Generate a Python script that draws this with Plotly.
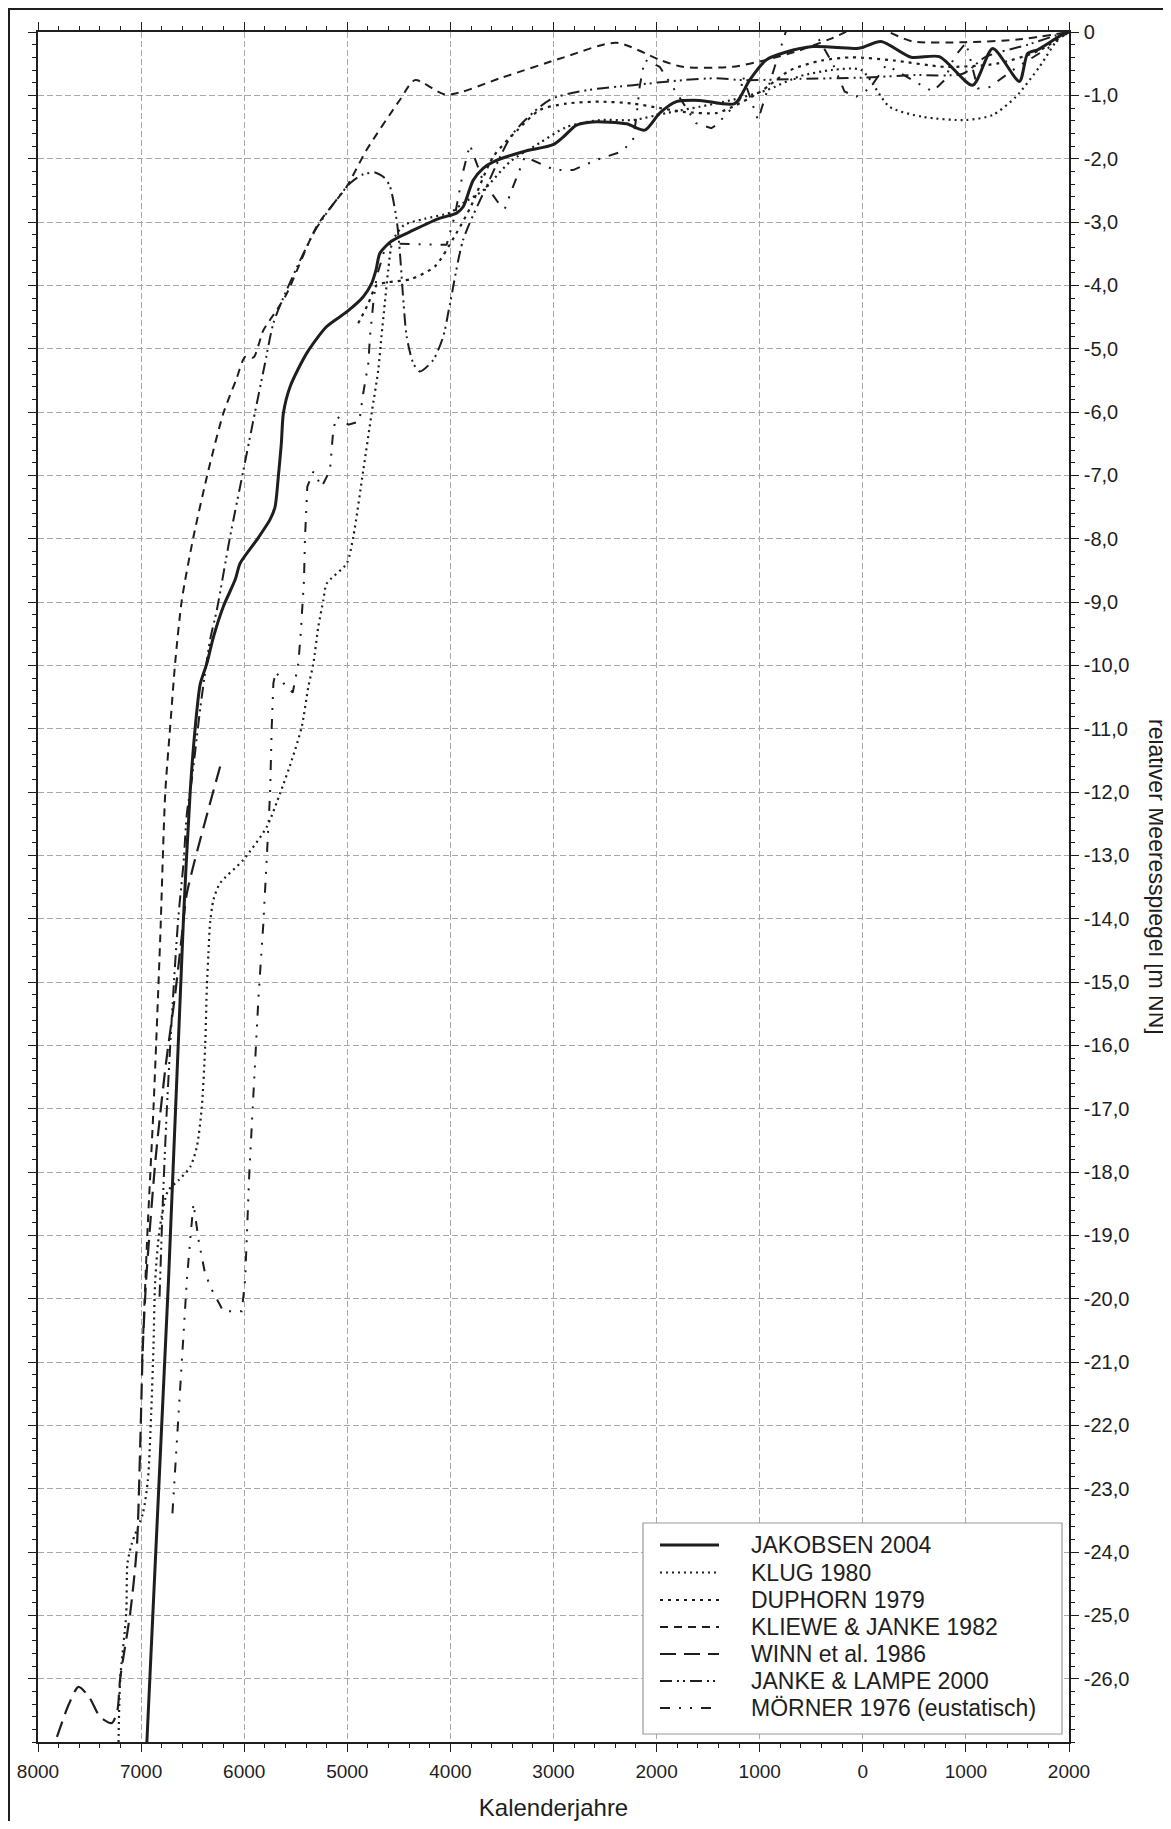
import plotly.graph_objects as go

# ---------------- data (year: negative = BC, depth in m NN) ----------------
jakobsen_year = [-6944, -6734, -6589, -6524, -6476, -6427, -6362, -6298, -6202, -6088, -6040, -5878,
                 -5750, -5701, -5669, -5640, -5620, -5555, -5393, -5200, -5006, -4845, -4764, -4722,
                 -4683, -4570, -4360, -4102, -3940, -3876, -3779, -3680, -3585, -3295, -3004, -2900,
                 -2777, -2616, -2292, -2115, -1970, -1808, -1582, -1243, -1098, -936, -750, -484,
                 -64, -15, 178, 469, 743, 1066, 1260, 1519, 1599, 1696, 1955, 2000]
jakobsen_depth = [-27.0, -19.7, -14.0, -12.0, -11.0, -10.3, -9.97, -9.55, -9.07, -8.65, -8.39, -8.02,
                  -7.7, -7.5, -7.02, -6.5, -6.02, -5.6, -5.07, -4.65, -4.42, -4.18, -3.97, -3.76,
                  -3.49, -3.3, -3.13, -2.94, -2.86, -2.76, -2.34, -2.15, -2.05, -1.89, -1.78, -1.65,
                  -1.47, -1.42, -1.45, -1.55, -1.28, -1.10, -1.08, -1.13, -0.76, -0.44, -0.32, -0.23,
                  -0.26, -0.25, -0.15, -0.40, -0.39, -0.84, -0.26, -0.78, -0.34, -0.28, -0.02, 0.0]

klug_year = [-7219, -7203, -7144, -7132, -7089, -6983, -6934, -6902, -6880, -6863, -6820, -6740,
             -6637, -6524, -6459, -6411, -6379, -6362, -6347, -6331, -6298, -6234, -6008, -5781,
             -5652, -5539, -5442, -5378, -5329, -5281, -5232, -5200, -5006, -4942, -4845, -4764,
             -4700, -4669, -4636, -4603, -4560, -4450, -4250, -4000, -3876, -3682, -3423, -3132,
             -2874, -2551, -2229, -1905, -1582, -1260, -936, -613, -300, -15, 259, 582, 1002,
             1260, 1487, 1713, 1938, 2000]
klug_depth = [-27.0, -26.02, -24.97, -24.18, -23.86, -23.39, -22.86, -21.81, -20.76, -19.71, -18.9, -18.3,
              -18.13, -17.92, -17.6, -16.97, -16.02, -15.07, -14.55, -14.07, -13.7, -13.44, -13.07, -12.55,
              -12.02, -11.5, -10.97, -10.34, -9.97, -9.39, -8.97, -8.71, -8.39, -7.97, -6.92, -6.02,
              -5.34, -4.81, -4.28, -3.76, -3.3, -3.05, -2.95, -2.85, -2.7, -2.5, -2.05, -1.75,
              -1.5, -1.39, -1.39, -1.28, -1.18, -1.07, -0.92, -0.7, -0.6, -0.6, -1.18, -1.34, -1.39,
              -1.31, -1.02, -0.55, -0.02, 0.0]

duphorn_year = [-4894, -4800, -4715, -4600, -4380, -4150, -3950, -3800, -3585, -3350, -3132, -2874,
                -2551, -2229, -1970, -1744, -1421, -1260, -1000, -700, -400, -100, 300, 800, 1300,
                1700, 2000]
duphorn_depth = [-4.6, -4.3, -4.0, -3.95, -3.9, -3.7, -3.2, -2.75, -1.97, -1.55, -1.23, -1.13,
                 -1.10, -1.13, -1.2, -1.26, -1.28, -1.18, -0.95, -0.6, -0.45, -0.4, -0.45, -0.55, -0.5,
                 -0.3, 0.0]

kliewe_year = [-6990, -6940, -6880, -6815, -6766, -6718, -6670, -6605, -6492, -6347, -6202, -6080,
               -5991, -5911, -5814, -5684, -5587, -5297, -5006, -4812, -4489, -4344, -4037, -3500,
               -2900, -2390, -1970, -1747, -1262, -936, -613, -300, 47, 250, 485, 1000, 1500, 2000]
kliewe_depth = [-21.0, -19.0, -17.0, -14.33, -12.02, -10.97, -9.97, -8.97, -7.97, -6.92, -6.02, -5.5,
                -5.13, -5.14, -4.71, -4.39, -4.13, -3.07, -2.44, -1.86, -1.07, -0.76, -0.99, -0.72,
                -0.4, -0.17, -0.44, -0.55, -0.55, -0.44, -0.29, -0.1, 0.13, 0.0, -0.15, -0.16, -0.12, 0.0]

winn_year = [-7816, -7700, -7607, -7500, -7400, -7283, -7230, -7203, -7106, -7041, -7009, -6983,
             -6951, -6860, -6760, -6670, -6600, -6556, -6217]
winn_depth = [-26.92, -26.4, -26.13, -26.3, -26.6, -26.7, -26.5, -26.0, -24.97, -23.92, -22.34, -20.76,
              -19.7, -17.8, -16.3, -15.2, -14.2, -13.6, -11.5]

janke_year = [-6821, -6790, -6750, -6700, -6640, -6589, -6556, -6508, -6420, -6331, -6266, -6137,
              -6008, -5911, -5798, -5717, -5587, -5300, -4974, -4850, -4732, -4640, -4586, -4521,
              -4489, -4457, -4424, -4360, -4296, -4167, -4070, -4005, -3876, -3650, -3392, -3036,
              -2680, -2228, -1744, -1421, -1163, -600, 0, 500, 969, 1195, 1600, 1939, 2000]
janke_depth = [-19.97, -18.5, -17.0, -15.5, -14.0, -13.13, -12.34, -11.8, -10.6, -9.6, -9.13, -7.97,
               -6.92, -6.13, -5.23, -4.6, -4.07, -3.1, -2.39, -2.25, -2.22, -2.3, -2.44, -2.97,
               -3.5, -4.23, -4.81, -5.23, -5.36, -5.18, -4.81, -4.3, -3.28, -2.44, -1.6, -1.07,
               -0.92, -0.84, -0.76, -0.73, -0.76, -0.74, -0.72, -0.68, -0.66, -0.39, -0.2, -0.02, 0.0]

moerner_year = [-6696, -6600, -6556, -6520, -6492, -6440, -6380, -6314, -6202, -6023, -5991, -5950,
                -5900, -5860, -5814, -5781, -5749, -5733, -5717, -5694, -5620, -5529, -5475, -5452,
                -5436, -5420, -5410, -5388, -5329, -5248, -5168, -5136, -5103, -4990, -4884, -4845,
                -4796, -4780, -4748, -4715, -4640, -4580, -4300, -4037, -3957, -3876, -3811, -3763,
                -3682, -3520, -3472, -3392, -3278, -2987, -2810, -2584, -2341, -2229, -2196, -2164,
                -2115, -1970, -1616, -1470, -1421, -1194, -1163, -1017, -742, -611, -291, -177, -64,
                67, 227, 566, 679, 792, 889, 1002, 1115, 1229, 1500, 1800, 2000]
moerner_depth = [-23.39, -20.8, -19.7, -19.0, -18.5, -19.1, -19.6, -19.86, -20.2, -20.2, -19.7, -18.0,
                 -16.5, -15.2, -14.07, -13.02, -12.02, -10.97, -10.28, -10.1, -10.28, -10.43, -9.97, -9.5,
                 -9.07, -8.65, -7.97, -7.18, -6.94, -7.18, -6.92, -6.28, -6.07, -6.2, -6.15, -5.7,
                 -5.23, -4.81, -4.28, -3.86, -3.45, -3.34, -3.35, -3.36, -2.9, -2.2, -1.78, -1.99,
                 -2.36, -2.73, -2.79, -2.44, -1.97, -2.18, -2.18, -2.02, -1.89, -1.71, -1.34, -0.86,
                 -0.44, -0.55, -1.44, -1.52, -1.47, -1.07, -0.7, -1.39, 0.03, 0.41, -0.5, -0.94, -1.02,
                 -0.89, -0.52, -0.84, -0.94, -0.76, -0.39, -0.17, -0.89, -0.87, -0.55, -0.25, 0.0]

series_names = ["JAKOBSEN 2004", "KLUG 1980", "DUPHORN 1979", "KLIEWE & JANKE 1982",
                "WINN et al. 1986", "JANKE & LAMPE 2000", "MÖRNER 1976 (eustatisch)"]

x_tickvals = [-8000, -7000, -6000, -5000, -4000, -3000, -2000, -1000, 0, 1000, 2000]
x_ticktext = ["8000", "7000", "6000", "5000", "4000", "3000", "2000", "1000", "0", "1000", "2000"]
y_tickvals = [0, -1, -2, -3, -4, -5, -6, -7, -8, -9, -10, -11, -12, -13, -14, -15, -16, -17, -18,
              -19, -20, -21, -22, -23, -24, -25, -26]
y_ticktext = ["0", "-1,0", "-2,0", "-3,0", "-4,0", "-5,0", "-6,0", "-7,0", "-8,0", "-9,0", "-10,0",
              "-11,0", "-12,0", "-13,0", "-14,0", "-15,0", "-16,0", "-17,0", "-18,0", "-19,0",
              "-20,0", "-21,0", "-22,0", "-23,0", "-24,0", "-25,0", "-26,0"]

# ---------------- figure ----------------
FONT = "Liberation Sans, Arial, sans-serif"
INK = "#1e1e1e"

# page sits inside the browser's default 8px body margin
W, H = 1163, 1813
ML, MR, MT, MB = 30, 102, 24, 79
PW, PH = W - ML - MR, H - MT - MB


def px(xp):  # page pixel x -> paper
    return (xp - 8 - ML) / PW


def py(yp):  # page pixel y -> paper
    return (H - MB - (yp - 8)) / PH


styles = [
    dict(width=3.0, dash="solid", shape="spline"),
    dict(width=2.2, dash="2px,4px", shape="spline"),
    dict(width=2.2, dash="3px,5px", shape="spline"),
    dict(width=2.0, dash="8px,6px", shape="spline"),
    dict(width=2.2, dash="16px,8px", shape="spline"),
    dict(width=2.0, dash="12px,5px,2px,4px,2px,5px", shape="spline"),
    dict(width=2.0, dash="10px,9px,2px,9px,2px,9px", shape="linear"),
]
data = [(jakobsen_year, jakobsen_depth), (klug_year, klug_depth), (duphorn_year, duphorn_depth),
        (kliewe_year, kliewe_depth), (winn_year, winn_depth), (janke_year, janke_depth),
        (moerner_year, moerner_depth)]

fig = go.Figure()
for name, (xs, ys), st in zip(series_names, data, styles):
    fig.add_trace(go.Scatter(
        x=xs, y=ys, mode="lines", name=name, showlegend=False,
        line=dict(color=INK, width=st["width"], dash=st["dash"], shape=st["shape"],
                  smoothing=0.7 if st["shape"] == "spline" else None),
        hoverinfo="skip"))

axis_common = dict(
    showline=True, linecolor=INK, linewidth=1.5, mirror="ticks",
    ticks="outside", ticklen=8, tickwidth=1.3, tickcolor=INK,
    showgrid=True, gridcolor="#a8a8a8", gridwidth=1, griddash="6px,3px",
    zeroline=False, automargin=False,
)

# legend box drawn as a framed panel with line samples and labels
legend_left, legend_right, legend_top, legend_bottom = 643, 1062, 1523, 1734
entry_y = [1545, 1572.5, 1600, 1627, 1654, 1681, 1708]
shapes = [dict(type="rect", xref="paper", yref="paper",
               x0=px(9), x1=px(1180), y0=py(1840), y1=py(9),
               line=dict(color=INK, width=2), fillcolor="rgba(0,0,0,0)", layer="below"),
          dict(type="rect", xref="paper", yref="paper",
               x0=px(legend_left), x1=px(legend_right), y0=py(legend_bottom), y1=py(legend_top),
               line=dict(color="#9a9a9a", width=1.2), fillcolor="white", layer="above")]
annotations = []
for name, st, ey in zip(series_names, styles, entry_y):
    shapes.append(dict(type="line", xref="paper", yref="paper",
                       x0=px(660), x1=px(719), y0=py(ey), y1=py(ey),
                       line=dict(color=INK, width=st["width"], dash=st["dash"]), layer="above"))
    annotations.append(dict(text=name, xref="paper", yref="paper", x=px(749), y=py(ey),
                            xanchor="left", yanchor="middle", showarrow=False,
                            font=dict(family=FONT, size=23, color=INK)))

annotations.append(dict(text="relativer Meeresspiegel [m NN]", textangle=90,
                        xref="paper", yref="paper", x=px(1157), y=py(877),
                        xanchor="center", yanchor="middle", showarrow=False,
                        font=dict(family=FONT, size=23, color=INK)))

fig.update_layout(
    width=W, height=H,
    margin=dict(l=ML, r=MR, t=MT, b=MB, autoexpand=False),
    paper_bgcolor="white", plot_bgcolor="white",
    font=dict(family=FONT, color=INK),
    showlegend=False,
    xaxis=dict(range=[-8000, 2000], tickmode="array", tickvals=x_tickvals, ticktext=x_ticktext,
               ticklabelstandoff=3, tickfont=dict(family=FONT, size=19, color=INK),
               minor=dict(dtick=200, tick0=-8000, ticks="outside", ticklen=4, tickcolor=INK,
                          showgrid=False),
               title=dict(text="Kalenderjahre", font=dict(family=FONT, size=24, color=INK),
                          standoff=32),
               **axis_common),
    yaxis=dict(range=[-27, 0], side="right", tickmode="array", tickvals=y_tickvals,
               ticktext=y_ticktext, ticklabelstandoff=1,
               tickfont=dict(family=FONT, size=20, color=INK),
               minor=dict(dtick=0.2, tick0=0, ticks="outside", ticklen=4, tickcolor=INK,
                          showgrid=False),
               **axis_common),
    annotations=annotations,
    shapes=shapes,
)

fig.write_html("out.html")
